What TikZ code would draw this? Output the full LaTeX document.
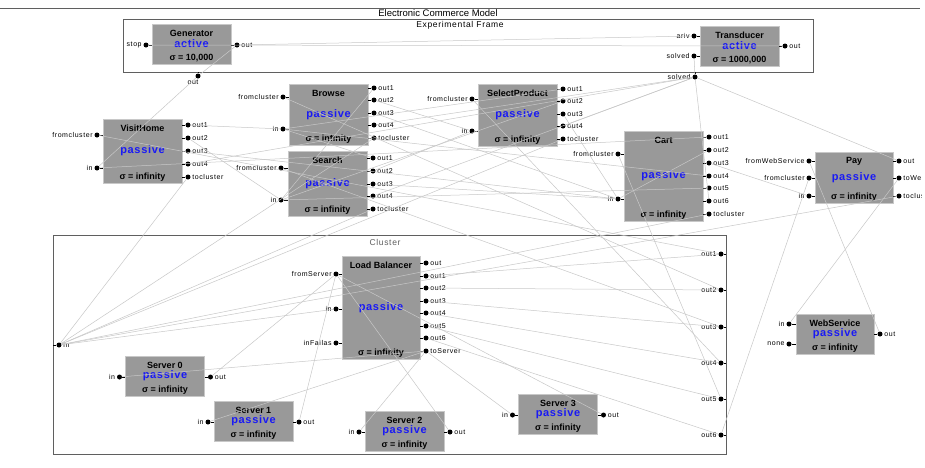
\documentclass[tikz,border=0pt]{standalone}
\usepackage{fontspec}
\setmainfont{Liberation Sans}
\newfontfamily\portfont[LetterSpace=8]{Liberation Sans}
\newfontfamily\statfont[LetterSpace=6]{Liberation Sans}
\usetikzlibrary{calc}
\definecolor{boxgray}{RGB}{153,153,153}
\definecolor{boxedge}{RGB}{200,200,200}
\definecolor{wiregray}{RGB}{200,200,200}
\definecolor{framegray}{RGB}{95,95,95}
\definecolor{statblue}{RGB}{25,25,245}
\tikzset{
    dbox/.style={fill=boxgray, draw=boxedge, line width=0.8pt, inner sep=0pt},
    ttl/.style={font=\fontsize{9}{10}\selectfont\bfseries},
    stat/.style={font=\statfont\fontsize{11}{12}\selectfont\bfseries, text=statblue},
    sig/.style={font=\fontsize{9}{10}\selectfont\bfseries},
    portdot/.style={circle, fill=black, inner sep=0pt, minimum size=5pt},
    plbl/.style={font=\portfont\fontsize{7}{8}\selectfont, inner sep=1.5pt},
    stub/.style={line width=0.8pt},
    wire/.style={draw=wiregray, line width=0.5pt},
    frame/.style={draw=framegray, line width=0.8pt}
}
% ports: box name, x of the dots, list of name/y
\newcommand{\inports}[3]{%
  \foreach \p/\yy in {#3} {
    \node[portdot] (#1-\p) at (#2,\yy) {};
    \draw[stub] (#1-\p) -- (#1.west |- #1-\p);
    \node[plbl, anchor=east] at (#1-\p.west) {\p};
  }}
\newcommand{\outports}[3]{%
  \foreach \p/\yy in {#3} {
    \node[portdot] (#1-\p) at (#2,\yy) {};
    \draw[stub] (#1.east |- #1-\p) -- (#1-\p);
    \node[plbl, anchor=west] at (#1-\p.east) {\p};
  }}
% box texts
\newcommand{\boxtext}[4]{%
  \node[ttl] at ($(#1.north)+(0,9.5)$) {#2};
  \node[stat] at (#1) {#3};
  \node[sig] at ($(#1.south)+(0,-6.5)$) {σ = #4};}

\begin{document}
\begin{tikzpicture}[x=1pt, y=-1pt]
\useasboundingbox (0,0) rectangle (925,467);
\fill[white] (0,0) rectangle (925,467);
\clip (0,0) rectangle (921,467);

% frames
\draw[frame] (0,8) -- (920,8);
\node[font=\fontsize{9.5}{10}\selectfont] at (438,13) {Electronic Commerce Model};
\draw[frame] (123,19) rectangle (813,72);
\node[plbl, font=\portfont\fontsize{8.5}{9}\selectfont] at (460,25) {Experimental Frame};
\draw[frame] (53,235) rectangle (726,454);
\node[plbl, font=\portfont\fontsize{8.5}{9}\selectfont, text=framegray] at (385,242) {Cluster};

% experimental frame
\node[dbox, minimum width=79, minimum height=40] (gen) at (191.5,44) {};
\boxtext{gen}{Generator}{active}{10,000}
\inports{gen}{146}{stop/45}
\outports{gen}{237}{out/45}
\node[dbox, minimum width=79, minimum height=40] (tr) at (739.5,46) {};
\boxtext{tr}{Transducer}{active}{1000,000}
\inports{tr}{694}{ariv/36, solved/56}
\outports{tr}{785}{out/46}
\node[portdot] (ef-out) at (198,76) {};
\draw[stub] (ef-out) -- (198,72);
\node[plbl, anchor=north] at ($(ef-out.south)+(-5,0)$) {out};
\node[portdot] (ef-solved) at (695,77) {};
\draw[stub] (ef-solved) -- (695,72);
\node[plbl, anchor=east] at (ef-solved.west) {solved};

% web pages
\node[dbox, minimum width=79, minimum height=64] (vh) at (142.5,151) {};
\boxtext{vh}{VisitHome}{passive}{infinity}
\inports{vh}{97}{fromcluster/135, in/168}
\outports{vh}{188}{out1/125, out2/138, out3/151, out4/164, tocluster/177}
\node[dbox, minimum width=79, minimum height=61] (br) at (328.5,114.5) {};
\boxtext{br}{Browse}{passive}{infinity}
\inports{br}{283}{fromcluster/97, in/129}
\outports{br}{374}{out1/88, out2/100, out3/113, out4/125, tocluster/138}
\node[dbox, minimum width=79, minimum height=65] (se) at (327.5,183.5) {};
\boxtext{se}{Search}{passive}{infinity}
\inports{se}{281}{fromcluster/168, in/200}
\outports{se}{373}{out1/158, out2/171, out3/184, out4/196, tocluster/209}
\node[dbox, minimum width=79, minimum height=62] (sp) at (517.5,115) {};
\boxtext{sp}{SelectProduct}{passive}{infinity}
\inports{sp}{472}{fromcluster/99, in/131}
\outports{sp}{563}{out1/89, out2/101, out3/114, out4/126, tocluster/139}
\node[dbox, minimum width=79, minimum height=90] (ca) at (663.5,176) {};
\boxtext{ca}{Cart}{passive}{infinity}
\inports{ca}{618}{fromcluster/154, in/199}
\outports{ca}{709}{out1/137, out2/150, out3/163, out4/176, out5/188, out6/201, tocluster/214}
\node[dbox, minimum width=78, minimum height=51] (pay) at (854,177.5) {};
\boxtext{pay}{Pay}{passive}{infinity}
\inports{pay}{809}{fromWebService/161, fromcluster/178, in/196}
\outports{pay}{899}{out/161, toWebService/178, tocluster/196}
\node[dbox, minimum width=78, minimum height=40] (ws) at (835,334) {};
\boxtext{ws}{WebService}{passive}{infinity}
\inports{ws}{789}{in/324, none/344}
\outports{ws}{880}{out/334}

% cluster
\node[portdot] (cl-in) at (59,345) {};
\draw[stub] (53,345) -- (cl-in);
\node[plbl, anchor=west] at (cl-in.east) {in};
\foreach \i/\yy in {1/254, 2/290, 3/327, 4/363, 5/399, 6/435} {
  \node[portdot] (cl-out\i) at (721,\yy) {};
  \draw[stub] (cl-out\i) -- (726,\yy);
  \node[plbl, anchor=east] at (cl-out\i.west) {out\i};
}
\node[dbox, minimum width=78, minimum height=103] (lb) at (381,307.5) {};
\boxtext{lb}{Load Balancer}{passive}{infinity}
\inports{lb}{336}{fromServer/274, in/309, inFailas/343}
\outports{lb}{426}{out/263, out1/276, out2/288, out3/301, out4/313, out5/326, out6/338, toServer/351}
\foreach \s/\cx/\cy in {0/165/376, 1/253.5/421, 2/404.5/431, 3/558/414} {
  \node[dbox, minimum width=79, minimum height=40] (s\s) at (\cx,\cy) {};
  \boxtext{s\s}{Server \s}{passive}{infinity}
  \inports{s\s}{\cx-45.5}{in/\cy+1}
  \outports{s\s}{\cx+45.5}{out/\cy+1}
}

% couplings
\foreach \a/\b in {gen-out/tr-ariv, tr-out/gen-stop, gen-out/ef-out, ef-solved/tr-solved,
    ef-out/vh-in, vh-out4/ef-solved, br-out4/ef-solved, se-out4/ef-solved,
    sp-out4/ef-solved, ca-out6/ef-solved, pay-out/ef-solved}
  \draw[wire] (\a) -- (\b);
\foreach \a/\b in {vh-out1/br-in, vh-out2/se-in, vh-out3/ca-in,
    br-out1/se-in, br-out2/sp-in, br-out3/ca-in,
    se-out1/br-in, se-out2/sp-in, se-out3/ca-in,
    sp-out1/br-in, sp-out2/se-in, sp-out3/ca-in,
    ca-out1/vh-in, ca-out2/ca-in, ca-out3/pay-in, ca-out4/br-in, ca-out5/se-in,
    pay-toWebService/ws-in, ws-out/pay-fromWebService}
  \draw[wire] (\a) -- (\b);
\foreach \a in {vh, br, se, sp, ca, pay}
  \draw[wire] (\a-tocluster) -- (cl-in);
\draw[wire] (cl-in) -- (lb-in);
\foreach \s in {0,...,3} {
  \draw[wire] (lb-toServer) -- (s\s-in);
  \draw[wire] (s\s-out) -- (lb-fromServer);
}
\foreach \i in {1,...,6}
  \draw[wire] (lb-out\i) -- (cl-out\i);
\foreach \i/\b in {1/vh, 2/br, 3/se, 4/sp, 5/ca, 6/pay}
  \draw[wire] (cl-out\i) -- (\b-fromcluster);
\end{tikzpicture}
\end{document}
